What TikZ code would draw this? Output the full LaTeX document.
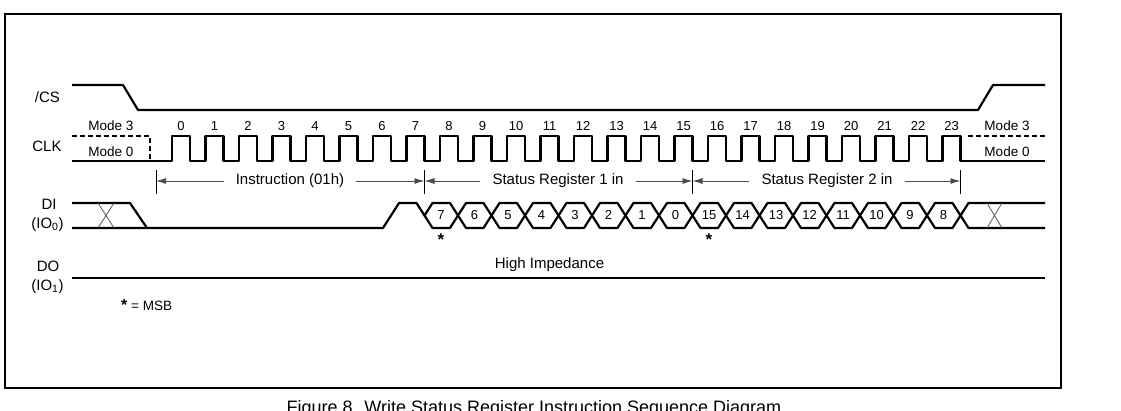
\documentclass[tikz,border=0pt]{standalone}
\usepackage{fontspec}
\setmainfont{Liberation Sans}
\usetikzlibrary{arrows.meta}
\begin{document}
\begin{tikzpicture}[x=1pt,y=-1pt,
  sig/.style={line width=2.2pt, line join=round},
  dsig/.style={line width=2pt, dash pattern=on 5pt off 3pt},
  thin x/.style={line width=0.8pt, draw=black!65},
  tickln/.style={line width=0.9pt},
  arr/.style={line width=0.9pt, draw=black!70, -{Latex[length=10pt,width=6pt]}},
  txt/.style={inner sep=0pt, text height=0.716em, text depth=0pt},
  lbl/.style={txt, font=\fontsize{15}{17}\selectfont},
  span/.style={txt, font=\fontsize{15}{17}\selectfont, inner xsep=12pt},
  modelbl/.style={txt, font=\fontsize{13.5}{15}\selectfont},
  num/.style={txt, font=\fontsize{13}{15}\selectfont},
  hexd/.style={txt, font=\fontsize{13}{15}\selectfont},
  starlbl/.style={inner sep=0pt, font=\fontsize{17}{18}\selectfont\bfseries}
]
\useasboundingbox (0,0) rectangle (1121,410);
% frame
\draw[line width=2pt] (5,14) rectangle (1061,388);
% signal labels
\node[lbl] (lcs) at (47.5,99) {/CS};
\node[lbl] (lclk) at (47,148) {CLK};
\node[lbl] (ldi) at (49,206) {DI};
\node[lbl] (lio0) at (47.5,225) {(IO\textsubscript{0})};
\node[lbl] (ldo) at (48,268) {DO};
\node[lbl] (lio1) at (47.5,287) {(IO\textsubscript{1})};
% /CS
\draw[sig] (72,85) -- (123,85) -- (138,110) -- (978,110) -- (993,85) -- (1045,85);
% CLK
\draw[dsig] (72,136) -- (150,136) -- (150,161);
\draw[dsig] (968,136) -- (1045,136);
\draw[sig] (72,161) \foreach \k in {0,...,23}{ -- ({172+33.5*\k},161) -- ++(0,-25) -- ++(18,0) -- ++(0,25)} -- (1045,161);
\node[modelbl] (m3l) at (111,127) {Mode 3};
\node[modelbl] (m0l) at (111,153) {Mode 0};
\node[modelbl] (m3r) at (1007,127) {Mode 3};
\node[modelbl] (m0r) at (1007,153) {Mode 0};
\foreach \k in {0,...,23} \node[num] (n\k) at ({181+33.5*\k},127) {\k};
% spans
\coordinate (t0) at (156,181);
\coordinate (t1) at (424.5,181);
\coordinate (t2) at (692.5,181);
\coordinate (t3) at (960.5,181);
\foreach \t in {t0,t1,t2,t3} \draw[tickln] (\t) ++(0,-11.5) -- ++(0,24);
\node[span] (instr) at (290,181) {Instruction (01h)};
\node[span] (sr1) at (558,181) {Status Register 1 in};
\node[span] (sr2) at (827,181) {Status Register 2 in};
\draw[arr] (instr.west) -- (t0);
\draw[arr] (instr.east) -- (t1);
\draw[arr] (sr1.west) -- (t1);
\draw[arr] (sr1.east) -- (t2);
\draw[arr] (sr2.west) -- (t2);
\draw[arr] (sr2.east) -- (t3);
% DI
\draw[sig] (72,203) -- (130,203) -- (147,228);
\draw[sig] (72,228) -- (383,228) -- (399,203) -- (416.5,203) -- (424.5,215.5);
\draw[thin x] (98,203) -- (114,228) (98,228) -- (114,203);
\foreach \i in {0,...,15}
  \draw[sig] ({424.5+33.5*\i},215.5) -- ++(8,-12.5) -- ({450+33.5*\i},203) -- ({458+33.5*\i},215.5) -- ({450+33.5*\i},228) -- ({432.5+33.5*\i},228) -- cycle;
\foreach \d [count=\i from 0] in {7,6,5,4,3,2,1,0,15,14,13,12,11,10,9,8}
  \node[hexd] (h\i) at ({441+33.5*\i},215.5) {\d};
\draw[sig] (1045,203) -- (968.5,203) -- (960.5,215.5) -- (968.5,228) -- (1045,228);
\draw[thin x] (987,203) -- (1002,228) (987,228) -- (1002,203);
\node[starlbl] (st1) at (441,240) {*};
\node[starlbl] (st2) at (709,240) {*};
% DO
\draw[sig] (72,278) -- (1045,278);
\node[lbl] (hiz) at (549.5,265) {High Impedance};
% legend
\node[inner sep=0pt, anchor=west, font=\fontsize{13.5}{15}\selectfont] (msb) at (121,305) {{\fontsize{16}{16}\selectfont\bfseries *} = MSB};
% caption
\node[anchor=base, inner sep=0pt, font=\fontsize{18}{20}\selectfont] (cap) at (534,413) {Figure 8. Write Status Register Instruction Sequence Diagram};
\end{tikzpicture}
\end{document}
